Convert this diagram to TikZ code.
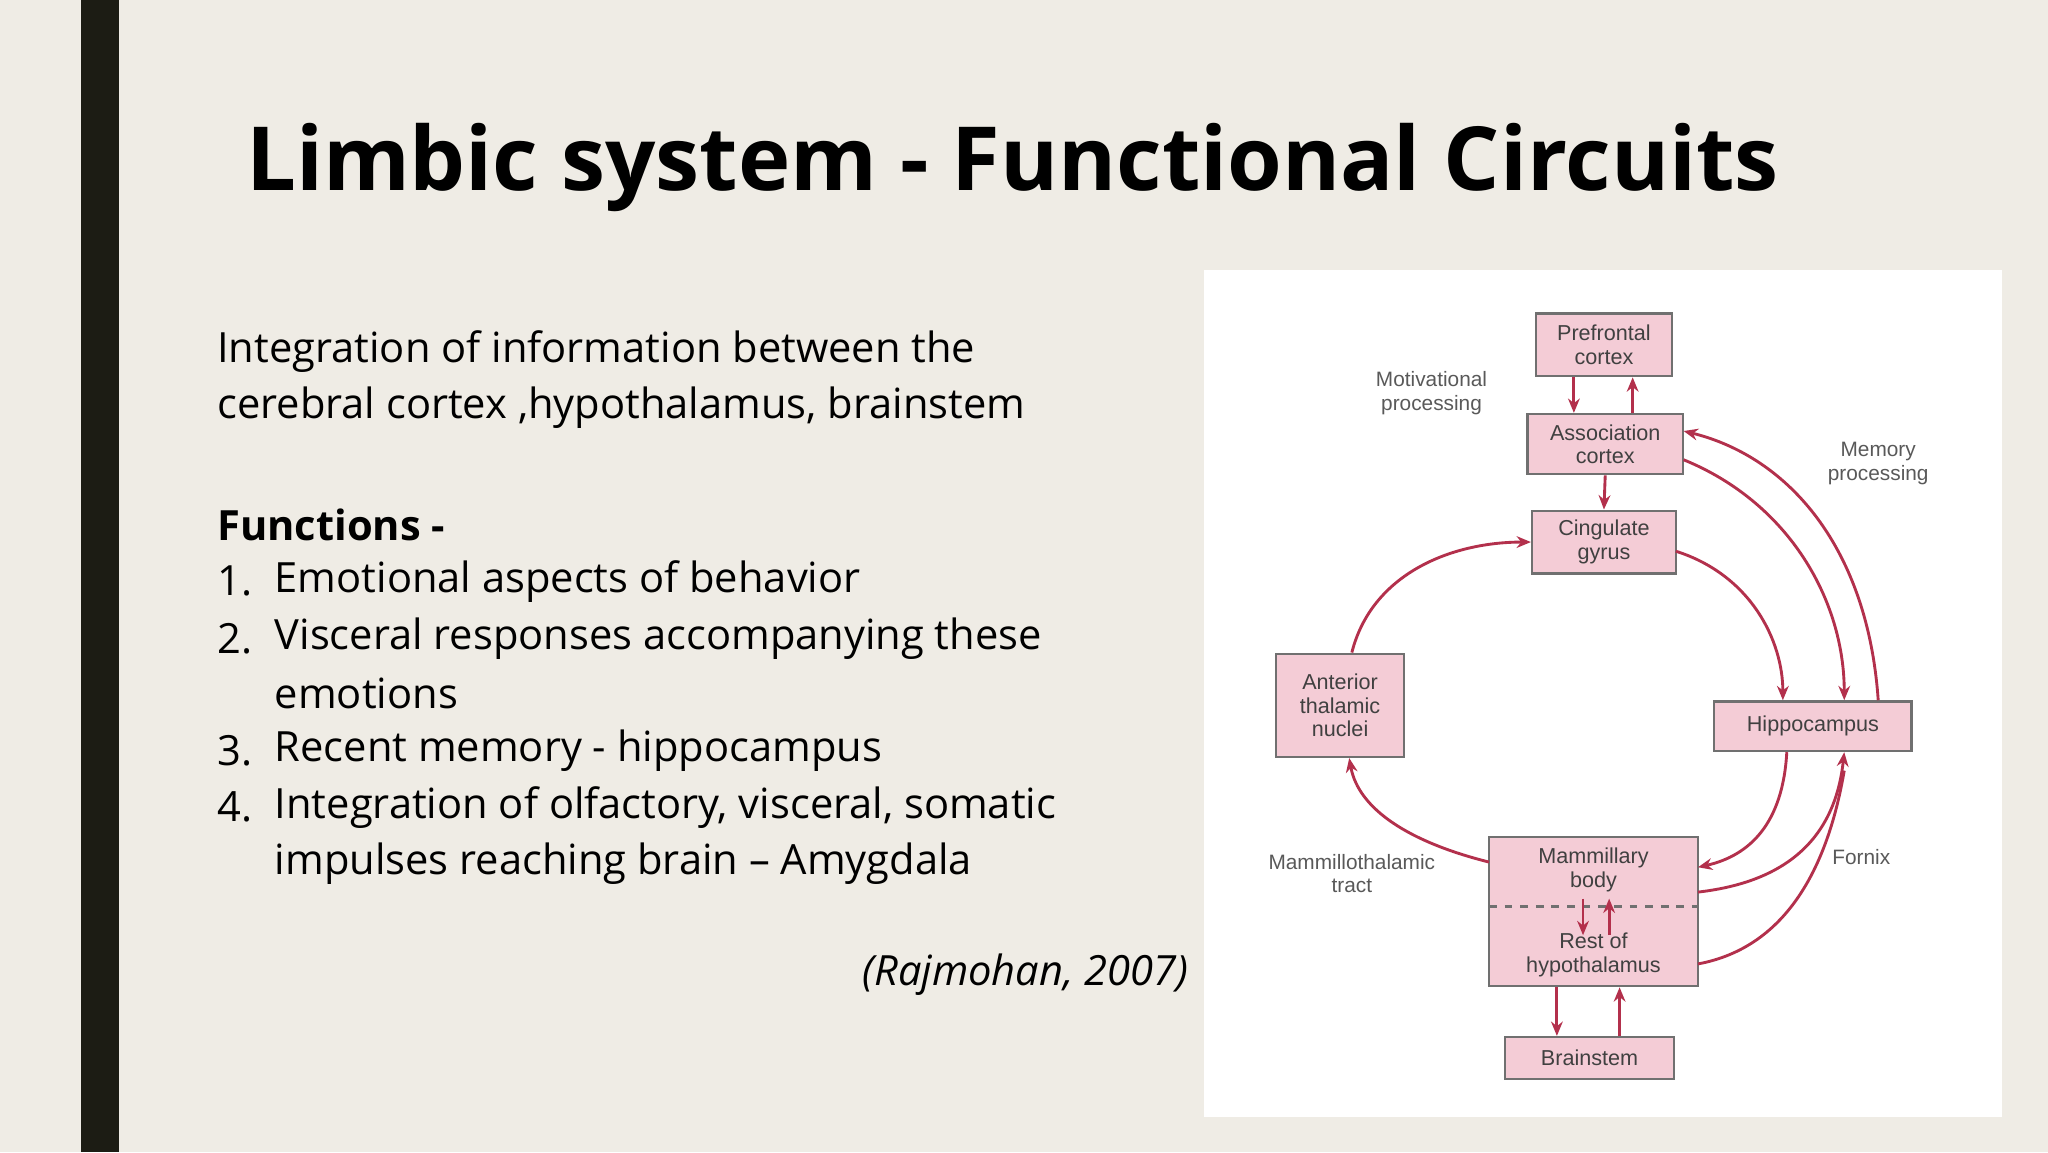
\documentclass[tikz,border=0pt]{standalone}
\usepackage{fontspec}
\setmainfont{Open Sans}
\newfontfamily\diagf{Liberation Sans}
\usetikzlibrary{arrows.meta}
\definecolor{bg}{HTML}{EFECE5}
\definecolor{bar}{HTML}{1C1C14}
\definecolor{pk}{HTML}{F4CCD6}
\definecolor{ar}{HTML}{B3304C}
\definecolor{bx}{HTML}{707070}
\begin{document}
\begin{tikzpicture}[x=0.5bp,y=-0.5bp,
 box/.style={draw=bx,fill=pk,line width=0.9pt,inner sep=0pt,font=\diagf\fontsize{8.3}{9}\selectfont\color{black!75},align=center},
 lab/.style={font=\diagf\fontsize{8}{9}\selectfont\color{black!65},align=center},
 arr/.style={draw=ar,line width=1.1pt,-{Stealth[length=5.5pt,width=4.5pt]}},
 body/.style={anchor=west,font=\fontsize{16}{20}\selectfont,inner sep=0pt}]
\useasboundingbox (0,0) rectangle (1568,882);
\fill[bg] (0,0) rectangle (1568,882);
\fill[bar] (62,0) rectangle (91,882);
\node[anchor=west,inner sep=0pt,font=\bfseries\fontsize{34}{40}\selectfont] (title) at (188,128) {Limbic system - Functional Circuits};
\node[body] (t1) at (166,269) {Integration of information between the};
\node[body] (t2) at (166,312) {cerebral cortex ,hypothalamus, brainstem};
\node[body,font=\bfseries\fontsize{16}{20}\selectfont] (f) at (166,402) {Functions -};
\node[body] (n1) at (166,445) {1.};
\node[body] (i1) at (210,445) {Emotional aspects of behavior};
\node[body] (n2) at (166,489) {2.};
\node[body] (i2) at (210,489) {Visceral responses accompanying these};
\node[body] (i2b) at (210,531) {emotions};
\node[body] (n3) at (166,575) {3.};
\node[body] (i3) at (210,575) {Recent memory - hippocampus};
\node[body] (n4) at (166,618) {4.};
\node[body] (i4) at (210,618) {Integration of olfactory, visceral, somatic};
\node[body] (i4b) at (210,661) {impulses reaching brain -- Amygdala};
\node[anchor=east,inner sep=0pt,font=\itshape\fontsize{16}{20}\selectfont] (ref) at (910,746) {(Rajmohan, 2007)};
% diagram
\fill[white] (922,207) rectangle (1533,855);
\node[box,minimum width=52bp,minimum height=24bp] (pf) at (1228,264) {Prefrontal\\cortex};
\node[box,minimum width=59.5bp,minimum height=23bp] (ac) at (1229,340) {Association\\cortex};
\node[box,minimum width=55bp,minimum height=24bp] (cg) at (1228,415) {Cingulate\\gyrus};
\node[box,minimum width=49bp,minimum height=39.5bp] (at) at (1026,540) {Anterior\\thalamic\\nuclei};
\node[box,minimum width=75.5bp,minimum height=19bp] (hc) at (1388,556) {Hippocampus};
\node[box,minimum width=80bp,minimum height=57bp] (mb) at (1220,698) {};
\node[lab,font=\diagf\fontsize{8.3}{9}\selectfont\color{black!75}] (mbt) at (1220,666) {Mammillary\\body};
\node[lab,font=\diagf\fontsize{8.3}{9}\selectfont\color{black!75}] (rh) at (1220,731) {Rest of\\hypothalamus};
\node[box,minimum width=64.5bp,minimum height=16bp] (bs) at (1217,810) {Brainstem};
\draw[dashed,bx,line width=0.8pt] (1140,694) -- (1300,694);
\node[lab] (l1) at (1096,301) {Motivational\\processing};
\node[lab] (l2) at (1438,355) {Memory\\processing};
\node[lab] (l3) at (1035,669) {Mammillothalamic\\tract};
\node[lab] (l4) at (1425,656) {Fornix};
% arrows
\draw[arr] (pf.south -| 1205,0) -- (ac.north -| 1205,0);
\draw[arr] (ac.north -| 1250,0) -- (pf.south -| 1250,0);
\draw[arr] (ac.south) -- (cg.north);
\draw[arr] (1283,422) .. controls (1340,440) and (1365,490) .. (hc.north -| 1365,0);
\draw[arr] (1289,352) .. controls (1370,385) and (1412,460) .. (hc.north -| 1412,0);
\draw[arr] (hc.north -| 1438,0) .. controls (1430,420) and (1370,350) .. (1289,330);
\draw[arr] (hc.south -| 1368,0) .. controls (1365,630) and (1340,655) .. (1300,664);
\draw[arr] (1300,683) .. controls (1370,675) and (1405,640) .. (hc.south -| 1412,0);
\draw[ar,line width=1.1pt] (1300,738) .. controls (1370,725) and (1400,660) .. (1412,590);
\draw[arr] (1140,660) .. controls (1080,645) and (1040,620) .. (at.south -| 1033,0);
\draw[arr] (at.north -| 1035,0) .. controls (1050,440) and (1110,415) .. (cg.west);
\draw[arr] (1212,688) -- (1212,716);
\draw[arr] (1232,716) -- (1232,688);
\draw[arr] (mb.south -| 1192,0) -- (bs.north -| 1192,0);
\draw[arr] (bs.north -| 1240,0) -- (mb.south -| 1240,0);
\end{tikzpicture}
\end{document}
